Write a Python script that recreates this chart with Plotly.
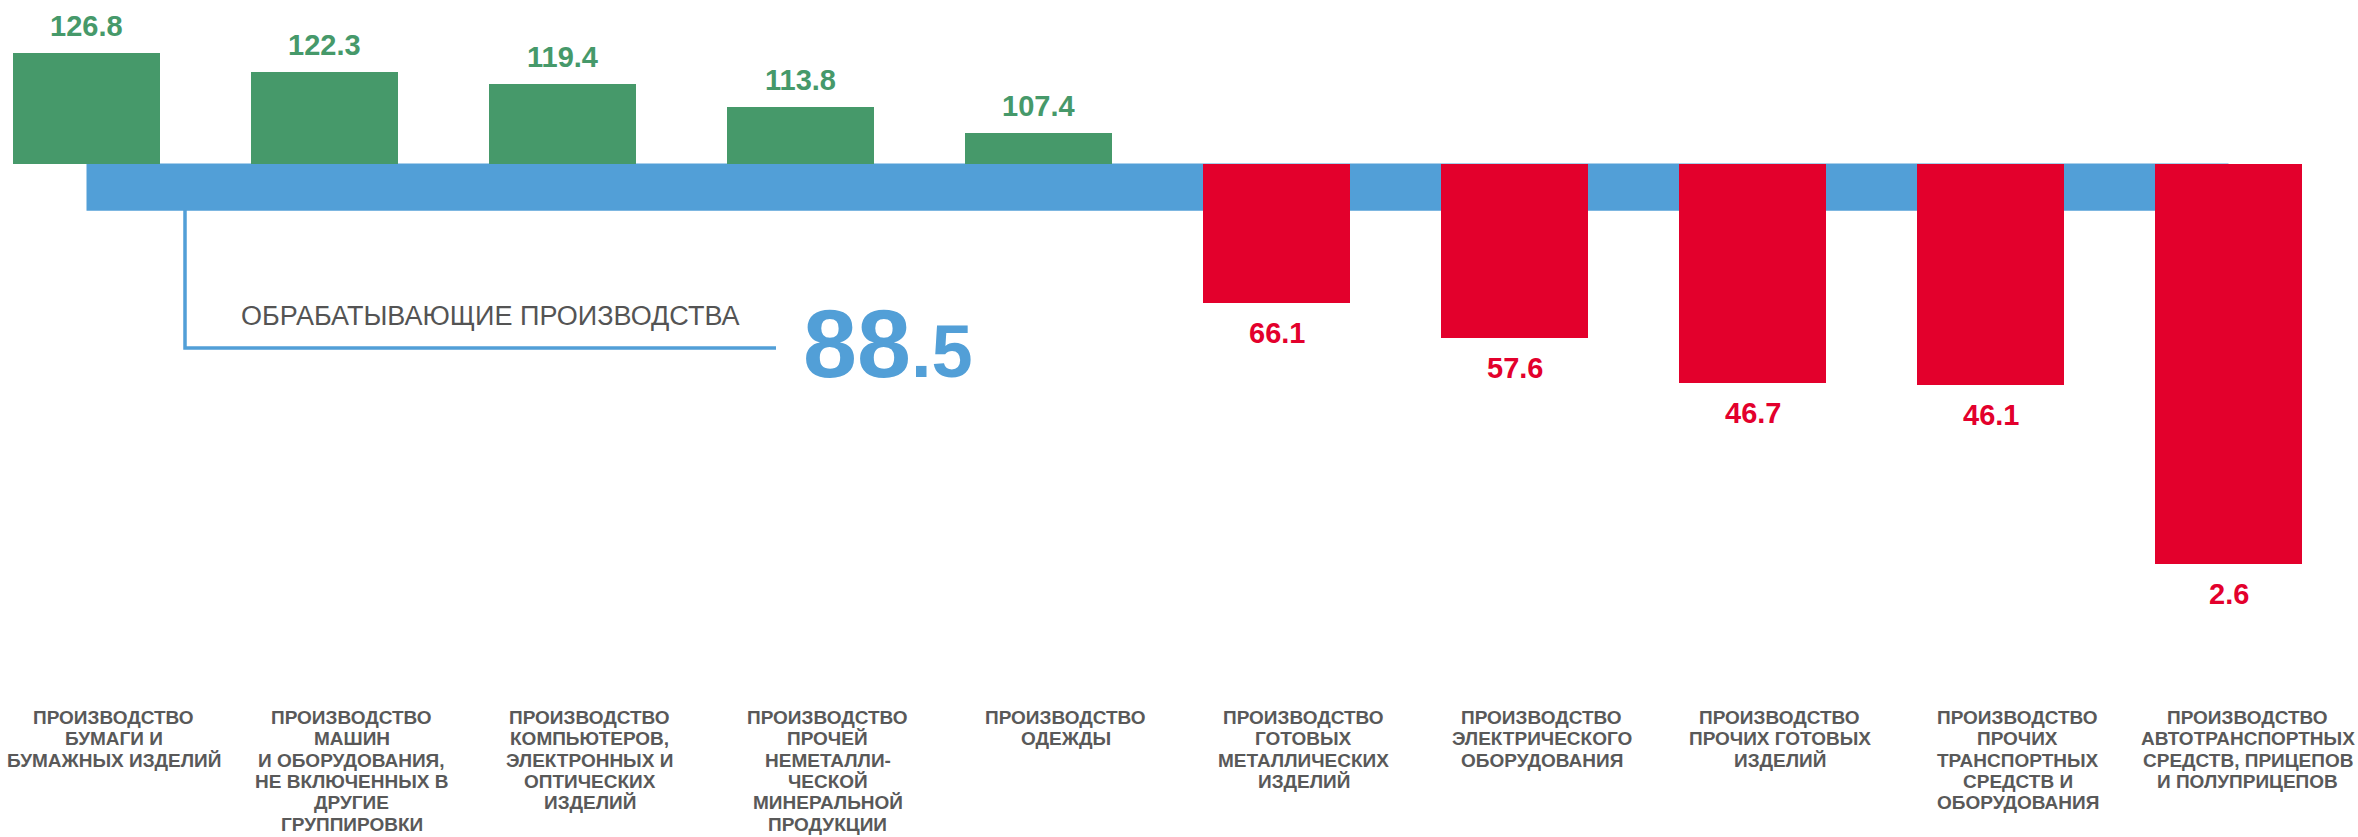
import plotly.graph_objects as go

# Data
categories = [
    'ПРОИЗВОДСТВО<br>БУМАГИ И<br>БУМАЖНЫХ ИЗДЕЛИЙ',
    'ПРОИЗВОДСТВО<br>МАШИН<br>И ОБОРУДОВАНИЯ,<br>НЕ ВКЛЮЧЕННЫХ В<br>ДРУГИЕ<br>ГРУППИРОВКИ',
    'ПРОИЗВОДСТВО<br>КОМПЬЮТЕРОВ,<br>ЭЛЕКТРОННЫХ И<br>ОПТИЧЕСКИХ<br>ИЗДЕЛИЙ',
    'ПРОИЗВОДСТВО<br>ПРОЧЕЙ<br>НЕМЕТАЛЛИ-<br>ЧЕСКОЙ<br>МИНЕРАЛЬНОЙ<br>ПРОДУКЦИИ',
    'ПРОИЗВОДСТВО<br>ОДЕЖДЫ',
    'ПРОИЗВОДСТВО<br>ГОТОВЫХ<br>МЕТАЛЛИЧЕСКИХ<br>ИЗДЕЛИЙ',
    'ПРОИЗВОДСТВО<br>ЭЛЕКТРИЧЕСКОГО<br>ОБОРУДОВАНИЯ',
    'ПРОИЗВОДСТВО<br>ПРОЧИХ ГОТОВЫХ<br>ИЗДЕЛИЙ',
    'ПРОИЗВОДСТВО<br>ПРОЧИХ<br>ТРАНСПОРТНЫХ<br>СРЕДСТВ И<br>ОБОРУДОВАНИЯ',
    'ПРОИЗВОДСТВО<br>АВТОТРАНСПОРТНЫХ<br>СРЕДСТВ, ПРИЦЕПОВ<br>И ПОЛУПРИЦЕПОВ',
]
values = [126.8, 122.3, 119.4, 113.8, 107.4, 66.1, 57.6, 46.7, 46.1, 2.6]
base_value = 100
total_label = 'ОБРАБАТЫВАЮЩИЕ ПРОИЗВОДСТВА'
total_value = 88.5

# Colors
green = '#46996A'
red = '#E3002C'
blue = '#529FD7'
gray = '#595959'

W, H = 2358, 837
FONT = 'Liberation Sans, Arial, sans-serif'
PX_PER_UNIT = 4.115   # vertical scale
PX_PER_CAT = 238      # horizontal step between categories


def px(x):
    """pixel -> paper x"""
    return x / W


def py(y):
    """pixel -> paper y (measured from top)"""
    return 1 - y / H


def main():
    fig = go.Figure()

    idx = list(range(len(values)))
    colors = [green if v >= base_value else red for v in values]

    fig.add_trace(go.Bar(
        x=idx,
        y=[v - base_value for v in values],
        base=base_value,
        width=0.618,
        marker=dict(color=colors, line=dict(width=0)),
        hoverinfo='skip',
    ))

    # blue band: from base down to the total value
    fig.add_shape(
        type='rect', xref='x', yref='y',
        x0=idx[0], x1=idx[-1], y0=total_value, y1=base_value,
        fillcolor=blue, line=dict(width=0), layer='below',
    )

    # connector line to the total label
    fig.add_shape(
        type='path', xref='paper', yref='paper',
        path='M {},{} L {},{} L {},{}'.format(
            px(185), py(210), px(185), py(348), px(776), py(348)),
        line=dict(color=blue, width=3.5),
    )

    # value labels
    for i, v in enumerate(values):
        up = v >= base_value
        fig.add_annotation(
            x=i, y=v, xref='x', yref='y',
            text=f'{v:.1f}', showarrow=False,
            yanchor='bottom' if up else 'top',
            yshift=9 if up else -12,
            font=dict(family=FONT, size=29, color=colors[i], weight='bold'),
        )

    # category labels, one annotation per line for a tighter line height
    for i, c in enumerate(categories):
        shift = 27 if i < len(categories) - 1 else 19  # keep the last one inside
        for k, line in enumerate(c.split('<br>')):
            fig.add_annotation(
                x=i, y=py(705), xref='x', yref='paper',
                text=line, showarrow=False, xshift=shift, yshift=-21.3 * k,
                xanchor='center', yanchor='top',
                font=dict(family=FONT, size=19, color=gray, weight='bold'),
            )

    # total
    fig.add_annotation(
        x=px(239), y=py(333), xref='paper', yref='paper',
        text=total_label, showarrow=False,
        xanchor='left', yanchor='bottom',
        font=dict(family=FONT, size=27, color='#545454'),
    )
    whole, frac = f'{total_value:.1f}'.split('.')
    fig.add_annotation(
        x=px(801), y=py(400), xref='paper', yref='paper',
        text=f"{whole}<span style='font-size:74px'>.{frac}</span>",
        showarrow=False, xanchor='left', yanchor='bottom',
        font=dict(family=FONT, size=97, color=blue, weight='bold'),
    )

    x0 = -86.5 / PX_PER_CAT
    top = base_value + 163.5 / PX_PER_UNIT
    fig.update_layout(
        width=W, height=H,
        margin=dict(l=0, r=0, t=0, b=0),
        paper_bgcolor='white',
        plot_bgcolor='white',
        showlegend=False,
        bargap=0,
        xaxis=dict(visible=False, range=[x0, x0 + W / PX_PER_CAT]),
        yaxis=dict(visible=False, range=[top - H / PX_PER_UNIT, top]),
    )
    # drop the default page margin so the figure fills the window
    fig.write_html(
        'out.html',
        config={'displayModeBar': False},
        post_script="document.body.style.margin='0';",
    )


if __name__ == '__main__':
    main()
